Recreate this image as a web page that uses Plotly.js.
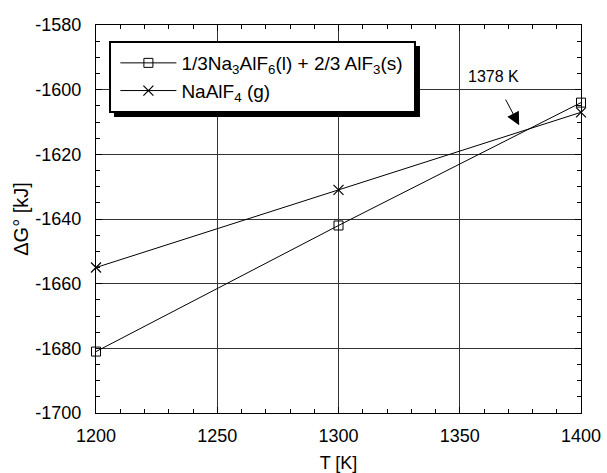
<!DOCTYPE html>
<html>
<head>
<meta charset="utf-8">
<script src="https://cdn.plot.ly/plotly-3.0.1.min.js"></script>
<style>html,body{margin:0;padding:0;background:#fff;}#chart{width:607px;height:473px;}</style>
</head>
<body>
<div id="chart"></div>
<script>
const temps = [1200, 1300, 1400];
const cryoliteAlF3 = [-1681, -1642, -1604];
const naAlF4Gas = [-1655, -1631, -1607];
const seriesNames = [
  '1/3Na<sub>3</sub>AlF<sub>6</sub>(l) + 2/3 AlF<sub>3</sub>(s)',
  'NaAlF<sub>4</sub> (g)'
];
const xTicks = [1200, 1250, 1300, 1350, 1400];
const yTicks = [-1700, -1680, -1660, -1640, -1620, -1600, -1580];
const crossLabel = '1378 K';

const fam = 'Liberation Sans, Arial, sans-serif';
const font = {family: fam, size: 18, color: '#000'};

const traces = [
  {x: temps, y: cryoliteAlF3, name: seriesNames[0], mode: 'lines+markers', cliponaxis: false,
   line: {color: '#000', width: 1},
   marker: {symbol: 'square-open', size: 9, color: '#000', line: {width: 1, color: '#000'}}},
  {x: temps, y: naAlF4Gas, name: seriesNames[1], mode: 'lines+markers', cliponaxis: false,
   line: {color: '#000', width: 1},
   marker: {symbol: 'x-thin-open', size: 10, color: '#000', line: {width: 1.2, color: '#000'}}}
];

const axisCommon = {
  showline: true, linecolor: '#000', linewidth: 1.2, mirror: 'allticks',
  ticks: 'inside', ticklen: 6, tickcolor: '#000', tickwidth: 1,
  showgrid: true, gridcolor: '#333', gridwidth: 1,
  zeroline: false, tickfont: font, automargin: false
};

const layout = {
  width: 607, height: 473,
  margin: {l: 96, r: 26, t: 25, b: 60},
  paper_bgcolor: '#fff', plot_bgcolor: '#fff',
  font: font,
  showlegend: true,
  xaxis: Object.assign({}, axisCommon, {
    range: [1200, 1400], tickvals: xTicks, ticktext: xTicks.map(String),
    ticklabelstandoff: 6,
    minor: {dtick: 10, ticks: 'inside', ticklen: 4, tickcolor: '#000', showgrid: false},
    title: {text: 'T [K]', font: font, standoff: 12}
  }),
  yaxis: Object.assign({}, axisCommon, {
    range: [-1700, -1580], tickvals: yTicks, ticktext: yTicks.map(String),
    ticklabelstandoff: 10,
    minor: {dtick: 5, ticks: 'inside', ticklen: 4, tickcolor: '#000', showgrid: false},
    title: {text: 'ΔG° [kJ]', font: {family: fam, size: 20, color: '#000'}, standoff: 1}
  }),
  legend: {
    x: 0.04, y: 0.951, xanchor: 'left', yanchor: 'top',
    bgcolor: 'rgba(0,0,0,0)', borderwidth: 0,
    font: {family: fam, size: 19, color: '#000'}, itemwidth: 56, tracegroupgap: 0
  },
  shapes: [
    {type: 'rect', xref: 'paper', yref: 'paper', layer: 'above',
     x0: 0.0371, x1: 0.668, y0: 0.7629, y1: 0.9459,
     fillcolor: '#000', line: {width: 0}},
    {type: 'rect', xref: 'paper', yref: 'paper', layer: 'above',
     x0: 0.0289, x1: 0.6577, y0: 0.7758, y1: 0.9562,
     fillcolor: '#fff', line: {width: 2, color: '#000'}}
  ],
  annotations: [
    {x: 1364, y: -1596, xref: 'x', yref: 'y', text: crossLabel, showarrow: false,
     font: {family: fam, size: 16, color: '#000'}},
    {x: 1374.5, y: -1611, xref: 'x', yref: 'y', ax: 1368.6, ay: -1602.6,
     axref: 'x', ayref: 'y', text: '', showarrow: true, arrowhead: 2,
     arrowsize: 2.6, arrowwidth: 1, arrowcolor: '#000'}
  ]
};

Plotly.newPlot('chart', traces, layout, {displayModeBar: false, staticPlot: true});
</script>
</body>
</html>
